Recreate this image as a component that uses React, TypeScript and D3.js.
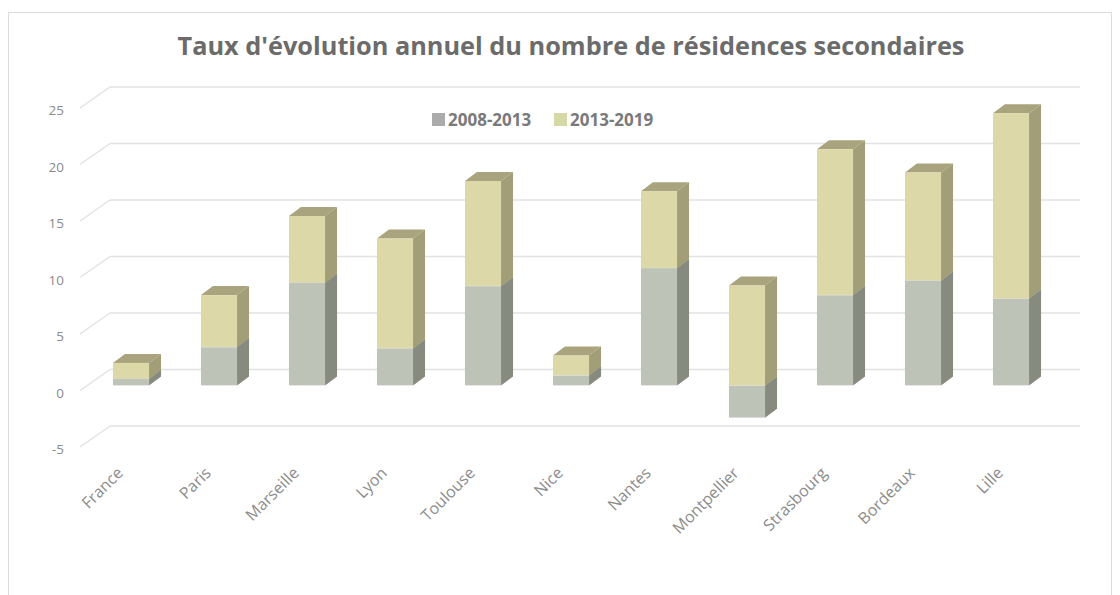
import React from "react";
import * as d3 from "d3";

const categories = ["France", "Paris", "Marseille", "Lyon", "Toulouse", "Nice", "Nantes", "Montpellier", "Strasbourg", "Bordeaux", "Lille"];
const series1 = [0.6, 3.4, 9.1, 3.3, 8.8, 0.9, 10.4, -2.85, 8.0, 9.3, 7.7]; // 2008-2013
const series2 = [1.4, 4.6, 5.9, 9.7, 9.3, 1.75, 6.8, 8.85, 12.9, 9.55, 16.4]; // 2013-2019
const seriesNames = ["2008-2013", "2013-2019"];
const yTicks = [-5, 0, 5, 10, 15, 20, 25];
const title = "Taux d'évolution annuel du nombre de résidences secondaires";

const W = 1120;
const H = 595;
const DX = 12;
const DY = -9;
const FRONT_OFF = 16;

const colors = [
  { front: "#bec3b7", side: "#868a7f", top: "#9ea295" },
  { front: "#ddd8a8", side: "#a29e78", top: "#a9a47d" },
];
const legendColors = ["#ababab", "#d5d9a5"];

export default function App() {
  const y = d3.scaleLinear().domain([-5, 25]).range([426, 87]);
  const x = d3
    .scaleBand<string>()
    .domain(categories)
    .range([87, 1055])
    .paddingInner(0.59)
    .paddingOuter(0.295);
  const bw = x.bandwidth();

  const rows = categories.map((c, i) => ({ cat: c, a: series1[i], b: series2[i] }));
  const stack = d3
    .stack<any>()
    .keys(["a", "b"])
    .offset(d3.stackOffsetDiverging);
  const layers = stack(rows);

  const fy = (v: number) => y(v) + FRONT_OFF;

  const segs: any[] = [];
  categories.forEach((c, i) => {
    layers.forEach((layer, k) => {
      const [v0, v1] = layer[i];
      if (v0 === v1) return;
      segs.push({ c, k, lo: Math.min(v0, v1), hi: Math.max(v0, v1) });
    });
  });
  const grouped = categories.map((c) =>
    segs.filter((s) => s.c === c).sort((p, q) => p.lo - q.lo)
  );

  return (
    <svg width={W} height={H} style={{ display: "block", position: "absolute", left: 0, top: 0 }} fontFamily="'Open Sans', sans-serif">
      <rect x={0} y={0} width={W} height={H} fill="#ffffff" />
      <rect x={8.5} y={12.5} width={1103} height={620} fill="none" stroke="#dcdcdc" strokeWidth={1} />
      <text x={571} y={55} textAnchor="middle" fontSize={25.3} fontWeight="bold" fill="#6b6b6b">
        {title}
      </text>

      {yTicks.map((t) => (
        <g key={t}>
          <line x1={110} x2={1080} y1={y(t)} y2={y(t)} stroke="#e2e2e2" strokeWidth={1.5} />
          <line x1={80} x2={110} y1={y(t) + 21} y2={y(t)} stroke="#e2e2e2" strokeWidth={1.5} />
          <text x={64} y={y(t) + 28} textAnchor="end" fontSize={13.5} fill="#8a8a8a">
            {t}
          </text>
        </g>
      ))}

      <g>
        {seriesNames.map((n, k) => {
          const lx = k === 0 ? 432 : 554;
          return (
            <g key={n}>
              <rect x={lx} y={113} width={13} height={13} fill={legendColors[k]} />
              <text x={lx + 16} y={126} fontSize={17} fontWeight="bold" fill="#7a7a7a">
                {n}
              </text>
            </g>
          );
        })}
      </g>

      {grouped.map((list, i) => {
        const x0 = x(categories[i])!;
        const x1 = x0 + bw;
        return (
          <g key={categories[i]}>
            {list.map((s, j) => {
              const col = colors[s.k];
              const yt = fy(s.hi);
              const yb = fy(s.lo);
              const side = `M${x1},${yt} L${x1 + DX},${yt + DY} L${x1 + DX},${yb + DY} L${x1},${yb} Z`;
              const top = `M${x0},${yt} L${x0 + DX},${yt + DY} L${x1 + DX},${yt + DY} L${x1},${yt} Z`;
              return (
                <g key={j}>
                  <path d={top} fill={col.top} />
                  <path d={side} fill={col.side} />
                  <rect x={x0} y={yt} width={bw} height={yb - yt} fill={col.front} />
                  <line x1={x0} x2={x1} y1={yb} y2={yb} stroke="#ffffff" strokeOpacity={0.25} />
                </g>
              );
            })}
          </g>
        );
      })}

      {categories.map((c) => {
        const cx = x(c)! + bw / 2 - 7;
        return (
          <text
            key={c}
            transform={`translate(${cx},${474}) rotate(-45)`}
            textAnchor="end"
            fontSize={16}
            fill="#8c8c8c"
          >
            {c}
          </text>
        );
      })}
    </svg>
  );
}
